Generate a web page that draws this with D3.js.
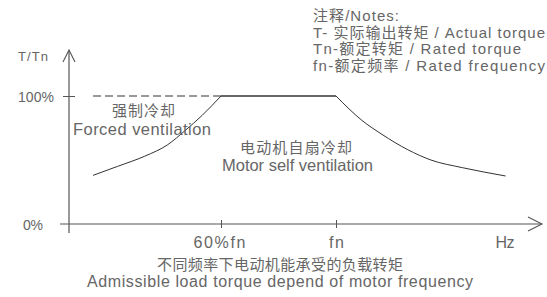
<!DOCTYPE html>
<html>
<head>
<meta charset="utf-8">
<script src="https://cdn.jsdelivr.net/npm/d3@7"></script>
<style>
  html, body { margin: 0; padding: 0; background: #fff; }
  svg { display: block; }
  text { font-family: "Liberation Sans", "Noto Sans CJK SC", sans-serif; fill: #666; }
</style>
</head>
<body>
<div id="chart"></div>
<script>
// frequency in % of fn, torque in % of Tn
const forcedF = [15.5, 24, 33.5, 41.5, 47.5, 53.5, 60];
const forcedT = [38, 45, 53, 62, 73, 85, 100];
const ratedF = [60, 100];
const ratedT = [100, 100];
const weakF = [100, 109, 116, 125, 133, 144, 159];
const weakT = [100, 81, 70, 58, 50, 44, 37.5];
const dashF = [15.5, 60];
const dashT = [100, 100];

const xTickVals = [60, 100];
const xTickLabels = ["60%fn", "fn"];
const yTickVals = [0, 100];
const yTickLabels = ["0%", "100%"];

const notes = [
  "注释/Notes:",
  "T- 实际输出转矩 / Actual torque",
  "Tn-额定转矩 / Rated torque",
  "fn-额定频率  / Rated frequency"
];

const width = 547, height = 297;
const axisX = 69;   // y axis position
const axisY = 224;  // x axis position

const svg = d3.select('#chart')
  .append('svg')
  .attr('width', width)
  .attr('height', height);

const x = d3.scaleLinear()
  .domain([0, 100])
  .range([48.5, 336]);

const y = d3.scaleLinear()
  .domain([0, 100])
  .range([axisY, 96]);

const line = d3.line()
  .x(d => x(d[0]))
  .y(d => y(d[1]))
  .curve(d3.curveMonotoneX);

const zip = (a, b) => a.map((v, i) => [v, b[i]]);

// axes lines with open arrow heads
const axisColor = '#555';
svg.append('line')
  .attr('x1', axisX).attr('x2', axisX)
  .attr('y1', 233).attr('y2', 50)
  .attr('stroke', axisColor).attr('stroke-width', 1.2);
svg.append('path')
  .attr('d', `M${axisX - 6},62 L${axisX},50 L${axisX + 6},62`)
  .attr('fill', 'none').attr('stroke', axisColor).attr('stroke-width', 1.1);

svg.append('line')
  .attr('x1', 60).attr('x2', 542)
  .attr('y1', axisY).attr('y2', axisY)
  .attr('stroke', axisColor).attr('stroke-width', 1.2);
svg.append('path')
  .attr('d', `M528,${axisY - 7} L542,${axisY} L528,${axisY + 7}`)
  .attr('fill', 'none').attr('stroke', axisColor).attr('stroke-width', 1.1);

// x axis ticks + labels
const xAxis = d3.axisBottom(x)
  .tickValues(xTickVals)
  .tickSize(4)
  .tickPadding(10)
  .tickFormat((d, i) => xTickLabels[i]);

const gx = svg.append('g')
  .attr('transform', `translate(0,${axisY})`)
  .call(xAxis);
gx.select('.domain').remove();
gx.selectAll('.tick line')
  .attr('y1', -4).attr('y2', 4)
  .attr('stroke', axisColor);
gx.selectAll('.tick text')
  .attr('y', 24).attr('dy', null)
  .attr('x', d => d === 60 ? -2 : 0)
  .attr('textLength', d => d === 60 ? 52 : 15)
  .attr('lengthAdjust', 'spacing')
  .style('font-size', '16px')
  .style('font-family', '"Liberation Sans", sans-serif')
  .attr('fill', '#666');

// y axis ticks + labels
const yAxis = d3.axisLeft(y)
  .tickValues(yTickVals)
  .tickSize(0)
  .tickFormat((d, i) => yTickLabels[i]);

const gy = svg.append('g')
  .attr('transform', `translate(${axisX},0)`)
  .call(yAxis);
gy.select('.domain').remove();
gy.selectAll('.tick text')
  .attr('x', d => d === 100 ? -33 : -36).attr('dy', '0.38em')
  .attr('text-anchor', 'middle')
  .attr('textLength', d => d === 100 ? 36 : 20)
  .attr('lengthAdjust', 'spacing')
  .style('font-size', '14px')
  .style('font-family', '"Liberation Sans", sans-serif')
  .attr('fill', '#666');
gy.selectAll('.tick line')
  .attr('x1', d => d === 100 ? -6 : 0)
  .attr('x2', d => d === 100 ? 6 : 0)
  .attr('stroke', axisColor);

// plain text helper: anchor, position, font size and target width
function label(txt, px, by, size, len, anchor) {
  svg.append('text')
    .attr('x', px).attr('y', by)
    .attr('text-anchor', anchor || 'middle')
    .attr('textLength', len)
    .attr('lengthAdjust', 'spacing')
    .style('font-size', size + 'px')
    .text(txt);
}

label('T/Tn', 18, 61, 13, 30, 'start');
label('Hz', 505, 248, 16, 19);

// curves
svg.append('path')
  .attr('d', line(zip(dashF, dashT)))
  .attr('fill', 'none').attr('stroke', '#333')
  .attr('stroke-width', 1.1)
  .attr('stroke-dasharray', '8,4');

svg.append('path')
  .attr('d', line(zip(forcedF, forcedT)))
  .attr('fill', 'none').attr('stroke', '#333').attr('stroke-width', 1);

svg.append('path')
  .attr('d', line(zip(ratedF, ratedT)))
  .attr('fill', 'none').attr('stroke', '#333').attr('stroke-width', 1.3);

svg.append('path')
  .attr('d', line(zip(weakF, weakT)))
  .attr('fill', 'none').attr('stroke', '#333').attr('stroke-width', 1);

// region labels
label('强制冷却', 143.5, 116, 15, 63);
label('Forced ventilation', 142, 135, 16.5, 138);
label('电动机自扇冷却', 296, 153, 15, 112);
label('Motor self ventilation', 297.5, 171, 16.5, 151);
label('不同频率下电动机能承受的负载转矩', 280, 270, 15, 246);
label('Admissible load torque depend of motor frequency', 280, 287, 16, 386);

// notes
const noteY = [21, 38, 54, 71];
const noteW = [86, 232, 208, 232];
svg.append('g')
  .selectAll('text')
  .data(notes)
  .enter()
  .append('text')
  .attr('x', 313)
  .attr('y', (d, i) => noteY[i])
  .attr('textLength', (d, i) => noteW[i])
  .attr('lengthAdjust', 'spacing')
  .style('font-size', '15px')
  .text(d => d);
</script>
</body>
</html>
